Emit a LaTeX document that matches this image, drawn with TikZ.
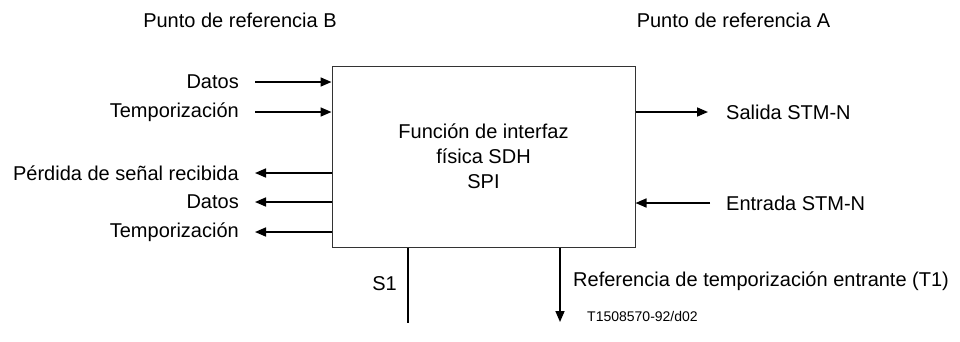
\documentclass[tikz,border=0pt]{standalone}
\usepackage{fontspec}
\setmainfont{Liberation Sans}
\usetikzlibrary{arrows.meta}
\begin{document}
\begin{tikzpicture}[x=1pt, y=-1pt, >={Triangle[length=11pt,width=9pt]},
        every node/.style={font=\fontsize{20}{25}\selectfont, inner sep=0pt},
        flow/.style={->, line width=1.6pt}]
        \useasboundingbox (0,0) rectangle (960,341);

        \node[draw=black!80, line width=1pt, minimum width=303pt, minimum height=181pt, align=center] (spi) at (483.5,156.5) {Función de interfaz\\física SDH\\SPI};

        \node (refB) at (240,20) {Punto de referencia B};
        \node (refA) at (733.5,20) {Punto de referencia A};

        % lado B
        \foreach \n/\y/\t in {dIn/82/Datos, tIn/112/Temporización} {
                \node[anchor=east] (\n) at (239,\y) {\t};
                \draw[flow] ([xshift=16pt]\n.east) -- (\n.east -| spi.west);
            }
        \foreach \n/\y/\t in {pOut/173/Pérdida de señal recibida, dOut/202/Datos, tOut/232/Temporización} {
                \node[anchor=east] (\n) at (239,\y) {\t};
                \draw[flow] (\n.east -| spi.west) -- ([xshift=16pt]\n.east);
            }

        % lado A
        \node[anchor=west] (sal) at (726,112) {Salida STM-N};
        \node[anchor=west] (ent) at (726,203) {Entrada STM-N};
        \draw[flow] (sal.west -| spi.east) -- ([xshift=-18pt]sal.west);
        \draw[flow] ([xshift=-16pt]ent.west) -- (ent.west -| spi.east);

        % salidas inferiores
        \coordinate (s1end) at (408,323);
        \coordinate (t1end) at (560,322);
        \node[anchor=east] (s1) at (397,284) {S1};
        \node[anchor=west] (t1) at (573,281) {Referencia de temporización entrante (T1)};
        \draw[line width=1.6pt] (s1end |- spi.south) -- (s1end);
        \draw[flow] (t1end |- spi.south) -- (t1end);

        \node[anchor=west, font=\fontsize{14}{16}\selectfont] (code) at (587,316) {T1508570-92/d02};
    \end{tikzpicture}
\end{document}
